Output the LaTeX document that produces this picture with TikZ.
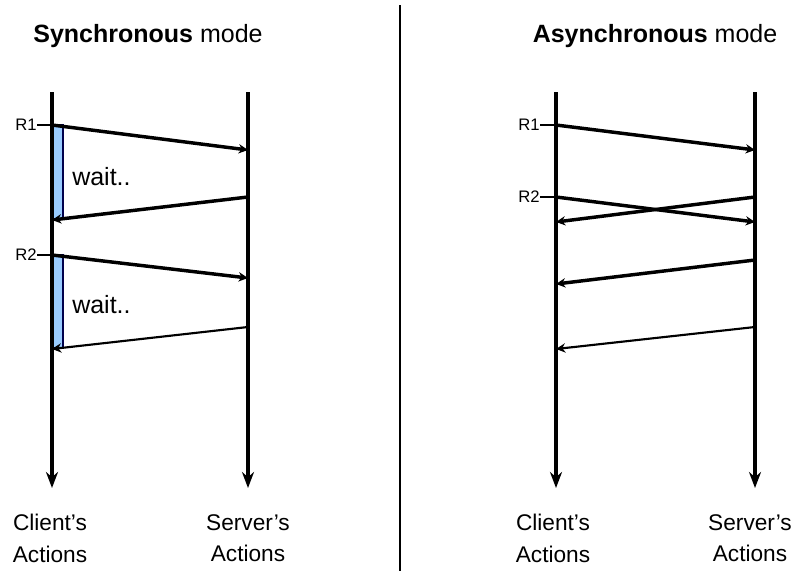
\documentclass[tikz,border=0pt]{standalone}
\usepackage{fontspec}
\setmainfont{Liberation Sans}
\usetikzlibrary{arrows.meta}
\definecolor{waitblue}{HTML}{99CCFF}
\begin{document}
\begin{tikzpicture}[x=0.75pt,y=-0.75pt,
  lifeline/.style={line width=3.6pt,-{Stealth[length=12pt,width=9pt]}},
  msg/.style={line width=2.6pt,-{Stealth[length=7pt,width=7pt]}},
  thinmsg/.style={line width=1.6pt,-{Stealth[length=7pt,width=7pt]}},
  tick/.style={line width=0.8pt},
  waitbox/.style={fill=waitblue,draw=black!70!blue,line width=0.8pt},
  bigtxt/.style={inner sep=0pt,font=\fontsize{18.75}{23}\selectfont},
  rtxt/.style={inner sep=0pt,font=\fontsize{12.5}{15}\selectfont,anchor=east},
  lbl/.style={inner sep=0pt,align=center,anchor=north,font=\fontsize{17}{23.5}\selectfont}]
\useasboundingbox (0,0) rectangle (791,571);

% titles and divider
\node[bigtxt,anchor=base] (t1) at (148,42) {\textbf{Synchronous} mode};
\node[bigtxt,anchor=base] (t2) at (655,42) {\textbf{Asynchronous} mode};
\coordinate (dtop) at (400,5);
\coordinate (dbot) at (400,571);
\draw[line width=0.8pt] (dtop) -- (dbot);

% ---------------- synchronous ----------------
\path[waitbox] (52,125) rectangle (63,219);
\path[waitbox] (52,255) rectangle (63,348);

\coordinate (sCtop) at (52,92);
\coordinate (sCbot) at (52,488);
\coordinate (sStop) at (248,92);
\coordinate (sSbot) at (248,488);
\draw[lifeline] (sCtop) -- (sCbot);
\draw[lifeline] (sStop) -- (sSbot);

\node[rtxt] (sr1) at (37,125) {R1};
\node[rtxt] (sr2) at (37,255) {R2};
\coordinate (sa1) at (52,125);
\coordinate (sa2) at (248,150);
\coordinate (sb1) at (248,197);
\coordinate (sb2) at (52,220);
\coordinate (sc1) at (52,255);
\coordinate (sc2) at (248,278);
\coordinate (sd1) at (248,327);
\coordinate (sd2) at (52,349);
\draw[tick] (sr1.east) -- (sa1);
\draw[tick] (sr2.east) -- (sc1);
\draw[msg] (sa1) -- (sa2);
\draw[msg] (sb1) -- (sb2);
\draw[msg] (sc1) -- (sc2);
\draw[thinmsg] (sd1) -- (sd2);

\node[bigtxt,anchor=west] (wt1) at (72,177) {wait..};
\node[bigtxt,anchor=west] (wt2) at (72,305) {wait..};

\node[lbl] (cl1) at (50,514) {Client’s\\Actions};
\node[lbl] (sv1) at (248,514) {Server’s\\Actions};

% ---------------- asynchronous ----------------
\coordinate (aCtop) at (556,92);
\coordinate (aCbot) at (556,488);
\coordinate (aStop) at (755,92);
\coordinate (aSbot) at (755,488);
\draw[lifeline] (aCtop) -- (aCbot);
\draw[lifeline] (aStop) -- (aSbot);

\node[rtxt] (ar1) at (540,125) {R1};
\node[rtxt] (ar2) at (540,197) {R2};
\coordinate (aa1) at (556,125);
\coordinate (aa2) at (755,150);
\coordinate (ab1) at (556,197);
\coordinate (ab2) at (755,222);
\coordinate (ac1) at (755,197);
\coordinate (ac2) at (556,222);
\coordinate (ad1) at (755,260);
\coordinate (ad2) at (556,284);
\coordinate (ae1) at (755,327);
\coordinate (ae2) at (556,349);
\draw[tick] (ar1.east) -- (aa1);
\draw[tick] (ar2.east) -- (ab1);
\draw[msg] (aa1) -- (aa2);
\draw[msg] (ab1) -- (ab2);
\draw[msg] (ac1) -- (ac2);
\draw[msg] (ad1) -- (ad2);
\draw[thinmsg] (ae1) -- (ae2);

\node[lbl] (cl2) at (553,514) {Client’s\\Actions};
\node[lbl] (sv2) at (750,514) {Server’s\\Actions};
\end{tikzpicture}
\end{document}
